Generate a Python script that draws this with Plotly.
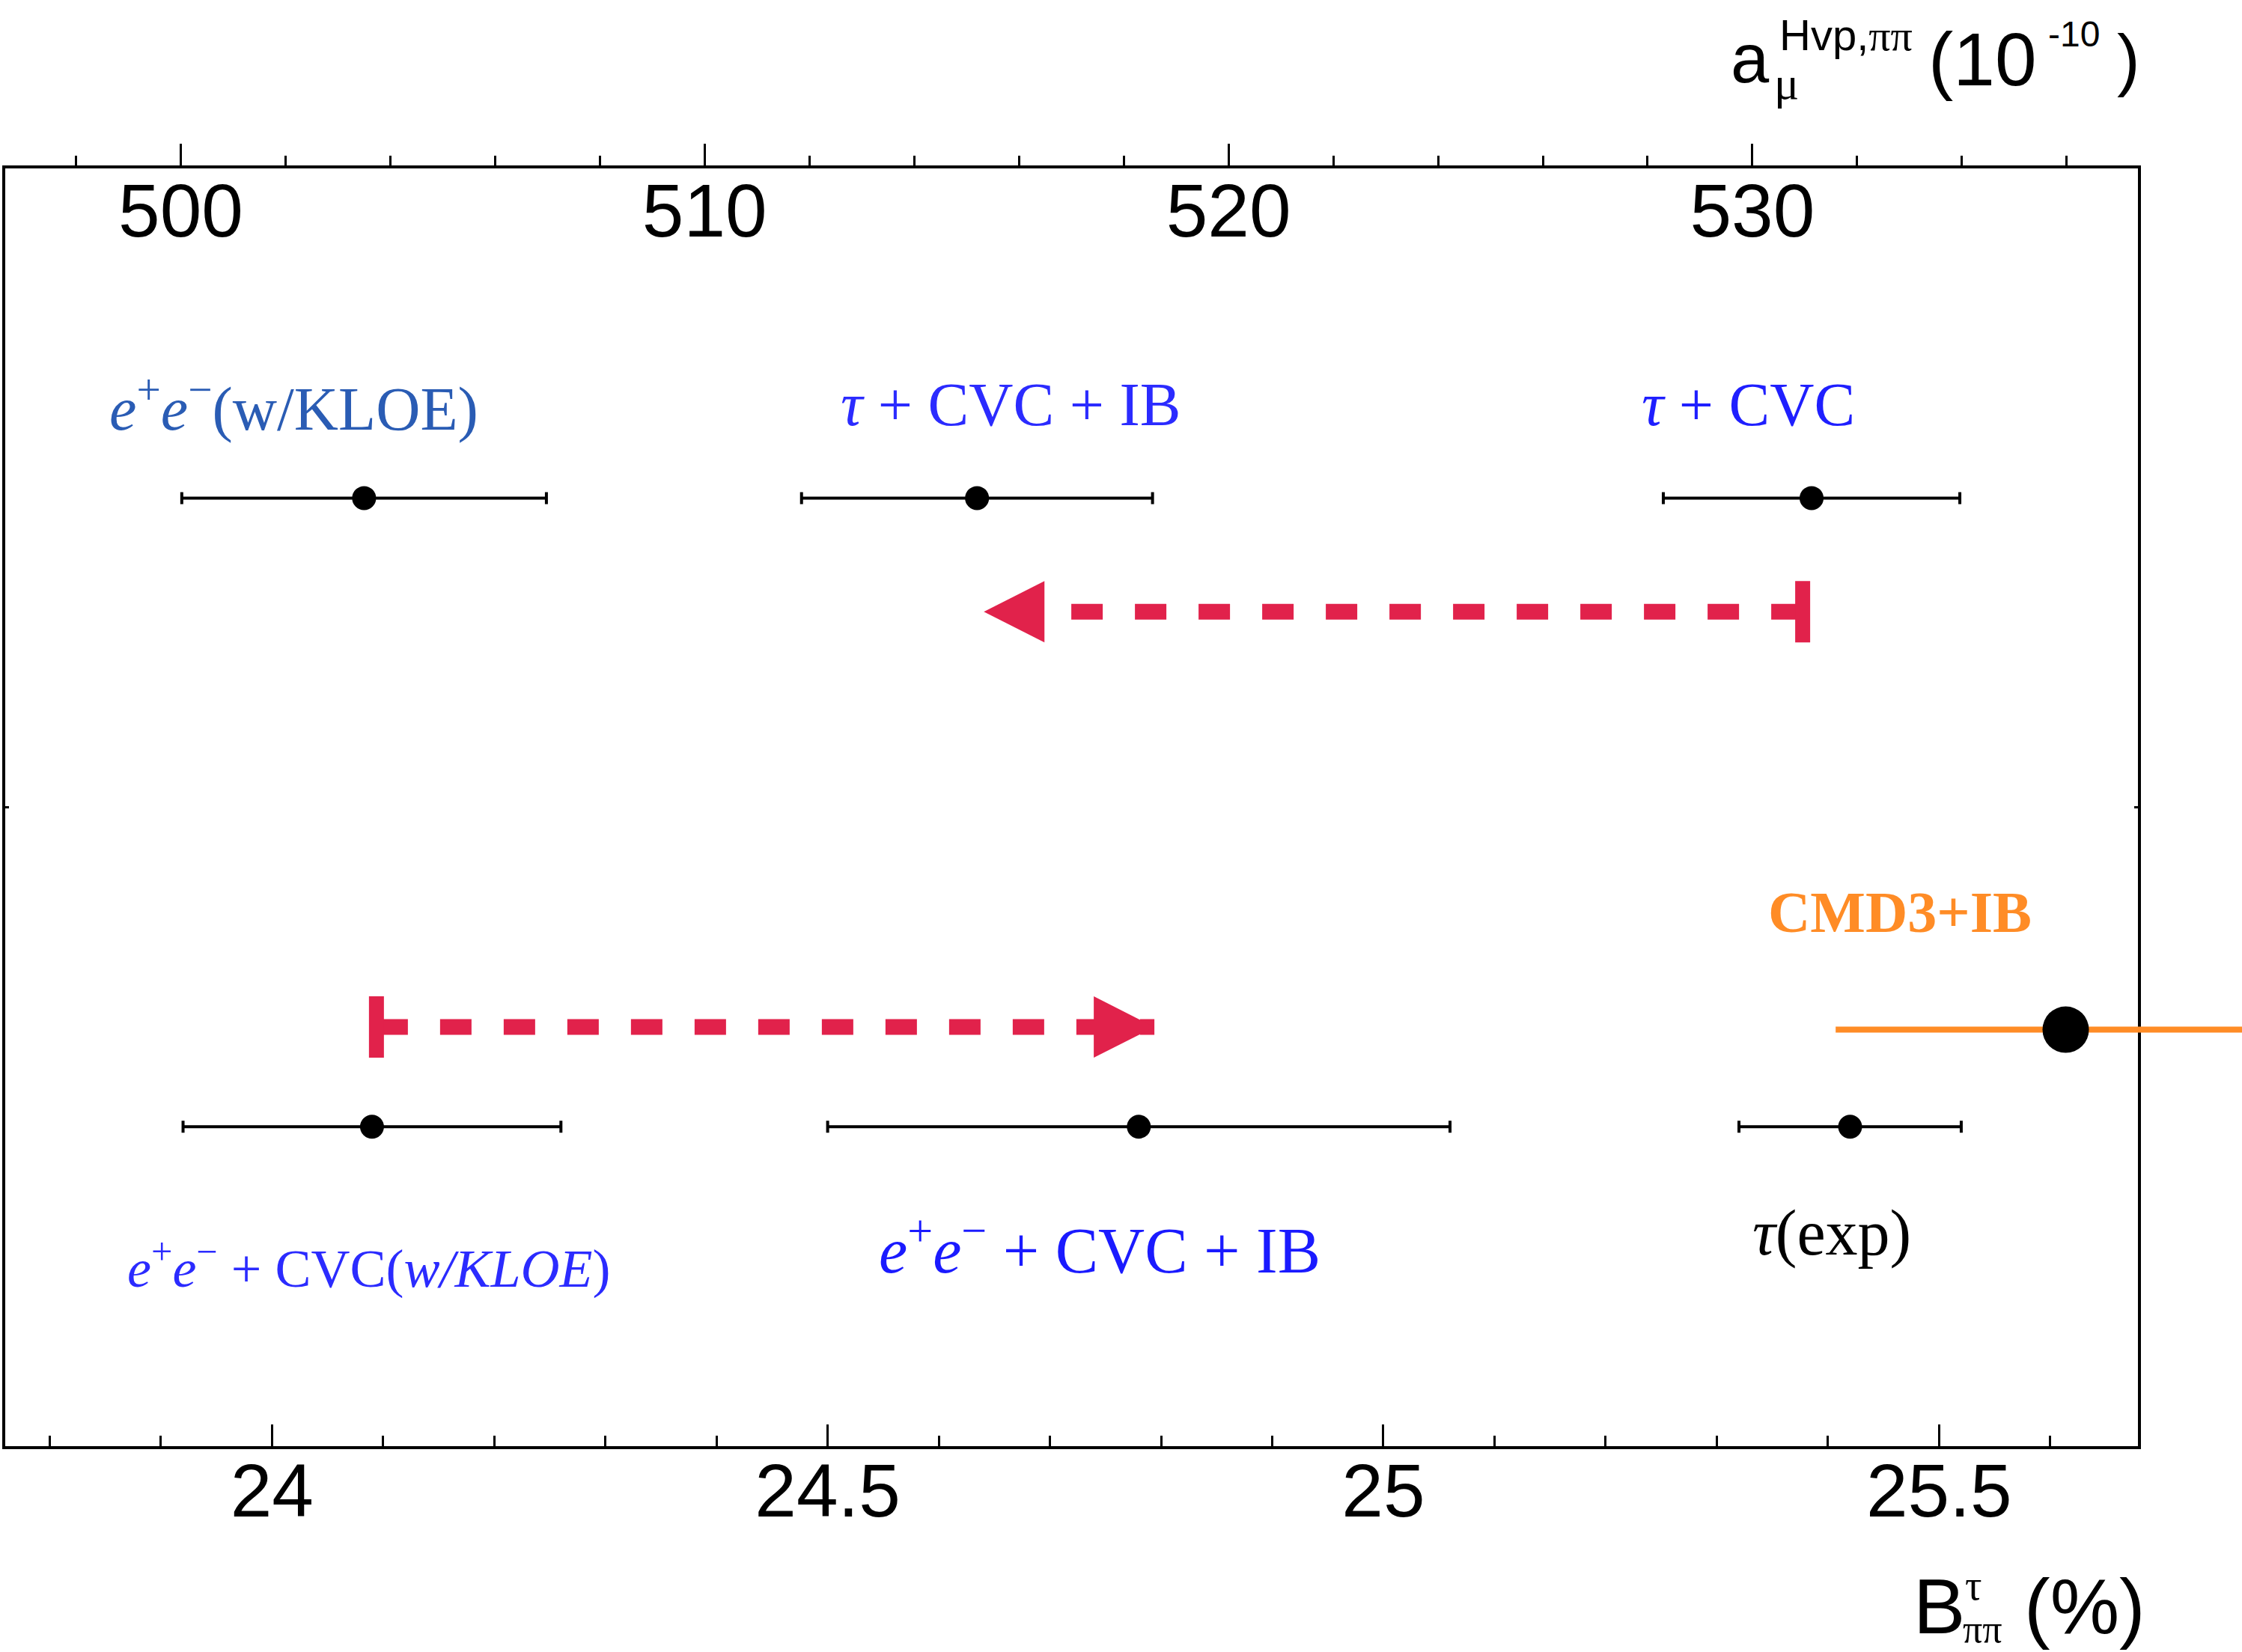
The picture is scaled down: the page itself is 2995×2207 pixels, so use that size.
import plotly.graph_objects as go

# ---------------- data ----------------
top_labels = ["e+e-(w/KLOE)", "tau+CVC+IB", "tau+CVC"]
top_amu = [503.5, 515.2, 531.13]          # a_mu^{Hvp,pipi} (1e-10), top axis
top_err = [3.48, 3.35, 2.83]

bot_labels = ["e+e-+CVC(w/KLOE)", "e+e-+CVC+IB", "tau(exp)"]
bot_B = [24.09, 24.78, 25.42]             # B_pipi^tau (%), bottom axis
bot_err = [0.17, 0.28, 0.10]

cmd3_B = [25.614]
cmd3_err = [0.207]

top_arrow = [530.96, 515.33]              # from, to (a_mu)
bot_arrow = [24.094, 24.794]              # from, to (B %)

top_ticks = [500, 510, 520, 530]
bot_ticks = [24, 24.5, 25, 25.5]
bot_ticktext = ["24", "24.5", "25", "25.5"]
top_range = [496.65, 537.36]
bot_range = [23.760, 25.679]

# ---------------- layout constants ----------------
W, H = 2995, 2207
ML, MR, MT, MB = 7, 0, 225, 275
FRAME_R = 2856
PW = W - ML - MR
PH = H - MT - MB
dom_end = (FRAME_R - ML) / PW

ROW_TOP, ARROW_TOP = 0.742, 0.653
ROW_CMD, ARROW_BOT, ROW_BOT = 0.326, 0.328, 0.250

RED = "#e1224b"
ORANGE = "#ff8c26"
SANS = "Liberation Sans"
SERIF = "Liberation Serif"


def px(x):
    return (x - ML) / PW


def py(y):
    return (H - MB - y) / PH


fig = go.Figure()

fig.add_trace(go.Scatter(
    x=top_amu, y=[ROW_TOP] * len(top_amu), xaxis="x2", yaxis="y",
    mode="markers", marker=dict(size=32, color="black"),
    error_x=dict(type="data", array=top_err, color="black", thickness=4, width=8),
    showlegend=False, hoverinfo="skip"))

fig.add_trace(go.Scatter(
    x=bot_B, y=[ROW_BOT] * len(bot_B), xaxis="x", yaxis="y",
    mode="markers", marker=dict(size=32, color="black"),
    error_x=dict(type="data", array=bot_err, color="black", thickness=4, width=8),
    showlegend=False, hoverinfo="skip"))

fig.add_trace(go.Scatter(
    x=cmd3_B, y=[ROW_CMD], xaxis="x3", yaxis="y2",
    mode="markers", marker=dict(size=62, color="black"),
    error_x=dict(type="data", array=cmd3_err, color=ORANGE, thickness=8, width=0),
    cliponaxis=False, showlegend=False, hoverinfo="skip"))

# ---------------- arrows ----------------
def arrow(xref, start, end, yv):
    d = 1 if end > start else -1
    return [
        dict(type="line", xref=xref, yref="y", x0=start, x1=end, y0=yv, y1=yv,
             line=dict(color=RED, width=21, dash="42px,43px")),
        dict(type="path", xref=xref, yref="y", xsizemode="pixel", ysizemode="pixel",
             xanchor=end, yanchor=yv,
             path=f"M0,0 L{-81*d},41 L{-81*d},-41 Z",
             fillcolor=RED, line=dict(width=0)),
        dict(type="rect", xref=xref, yref="y", xsizemode="pixel", ysizemode="pixel",
             xanchor=start, yanchor=yv, x0=-10, x1=10, y0=-41, y1=41,
             fillcolor=RED, line=dict(width=0)),
    ]


shapes = arrow("x2", top_arrow[0], top_arrow[1], ARROW_TOP) + \
    arrow("x", bot_arrow[0], bot_arrow[1], ARROW_BOT)

# ---------------- annotations ----------------
ann_specs = [
    ("<i>e</i><sup>+</sup><i>e</i><sup>−</sup>(w/KLOE)", 392, 540, "center", 82, SERIF, "#2a5cb4"),
    ("<i>τ</i> + CVC + IB", 1350, 540, "center", 82, SERIF, "#2b2bff"),
    ("<i>τ</i> + CVC", 2335, 540, "center", 82, SERIF, "#1f1fff"),
    ("<i>e</i><sup>+</sup><i>e</i><sup>−</sup> + CVC(<i>w/KLOE</i>)", 492, 1689, "center", 72, SERIF, "#2b2bff"),
    ("<i>e</i><sup>+</sup><i>e</i><sup>−</sup> + CVC + IB", 1469, 1664, "center", 86, SERIF, "#1a1aff"),
    ("<i>τ</i>(exp)", 2447, 1647, "center", 86, SERIF, "black"),
    ("<b>CMD3+IB</b>", 2538, 1218, "center", 78, SERIF, ORANGE),
    # bottom axis title
    ("B", 2556, 2146, "left", 104, SANS, "black"),
    ("τ", 2625, 2118, "left", 56, SERIF, "black"),
    ("ππ", 2622, 2176, "left", 52, SERIF, "black"),
    ("(%)", 2704, 2146, "left", 104, SANS, "black"),
    # top axis title
    ("a", 2312, 78, "left", 92, SANS, "black"),
    ("μ", 2370, 111, "left", 62, SERIF, "black"),
    ("Hvp,<span style='font-family:Liberation Serif'>ππ</span>", 2377, 47, "left", 58, SANS, "black"),
    ("(10", 2576, 79, "left", 100, SANS, "black"),
    ("-10", 2736, 45, "left", 48, SANS, "black"),
    (")", 2828, 79, "left", 92, SANS, "black"),
]

annotations = [
    dict(text=t, x=px(x), y=py(y), xref="paper", yref="paper",
         xanchor=xa, yanchor="middle", showarrow=False, borderpad=0, borderwidth=0,
         font=dict(size=s, family=f, color=c))
    for (t, x, y, xa, s, f, c) in ann_specs
]

axis_font = dict(family=SANS, size=100, color="black")

fig.update_layout(
    width=W, height=H,
    margin=dict(l=ML, r=MR, t=MT, b=MB, pad=0),
    paper_bgcolor="white", plot_bgcolor="rgba(0,0,0,0)",
    showlegend=False,
    xaxis=dict(domain=[0, dom_end], range=bot_range, anchor="y",
               tickmode="array", tickvals=bot_ticks, ticktext=bot_ticktext,
               ticks="inside", ticklen=29, tickwidth=3, tickcolor="black",
               minor=dict(dtick=0.1, tick0=23.8, ticks="inside", ticklen=14,
                          tickwidth=3, tickcolor="black"),
               tickfont=axis_font, ticklabelstandoff=-30,
               showline=True, linewidth=4, linecolor="black",
               showgrid=False, zeroline=False),
    xaxis2=dict(overlaying="x", side="top", anchor="y", range=top_range,
                tickmode="array", tickvals=top_ticks,
                ticks="outside", ticklen=29, tickwidth=3, tickcolor="black",
                minor=dict(dtick=2, tick0=498, ticks="outside", ticklen=13,
                           tickwidth=3, tickcolor="black"),
                ticklabelposition="inside", tickfont=axis_font, ticklabelstandoff=38,
                showline=True, linewidth=4, linecolor="black",
                showgrid=False, zeroline=False),
    yaxis=dict(domain=[0, 1], range=[0, 1], anchor="x",
               tickmode="array", tickvals=[0.5], ticks="inside", ticklen=5,
               tickwidth=3, tickcolor="black", showticklabels=False,
               showline=True, linewidth=4, linecolor="black", mirror="ticks",
               showgrid=False, zeroline=False),
    xaxis3=dict(domain=[0, 1], anchor="y2", visible=False,
                range=[bot_range[0], bot_range[0] + (bot_range[1] - bot_range[0]) / dom_end]),
    yaxis2=dict(domain=[0, 1], anchor="x3", range=[0, 1], visible=False),
    shapes=shapes,
    annotations=annotations,
)

fig.write_html("out.html", config={"displayModeBar": False},
               post_script="document.body.style.margin='0px';")
